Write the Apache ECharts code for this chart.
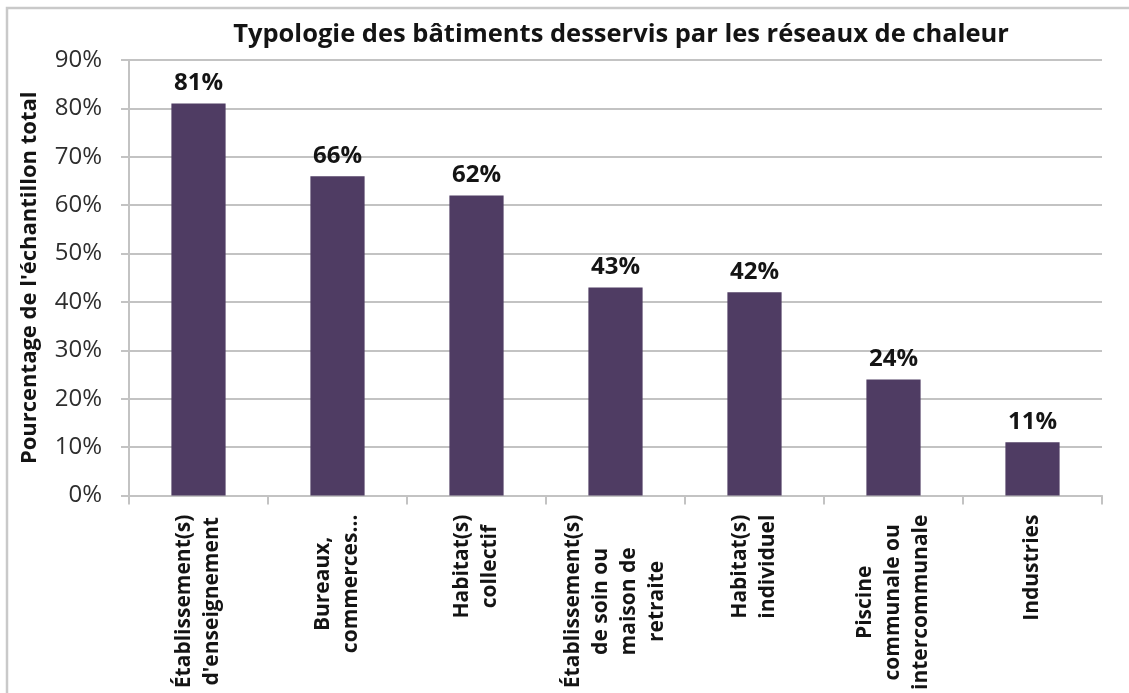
<!DOCTYPE html>
<html>
<head>
<meta charset="utf-8">
<title>Typologie des bâtiments desservis par les réseaux de chaleur</title>
<script src="https://cdn.jsdelivr.net/npm/echarts@6/dist/echarts.min.js"></script>
<style>
  html, body { margin: 0; padding: 0; background: #ffffff; overflow: hidden; }
  #chart { width: 1129px; height: 693px; }
</style>
</head>
<body>
<div id="chart"></div>
<script>
// Building types served by heat networks, share of the total sample (%)
const categories = [
  "Établissement(s)\nd'enseignement",
  "Bureaux,\ncommerces…",
  "Habitat(s)\ncollectif",
  "Établissement(s)\nde soin ou\nmaison de\nretraite",
  "Habitat(s)\nindividuel",
  "Piscine\ncommunale ou\nintercommunale",
  "Industries"
];
const shares = [81, 66, 62, 43, 42, 24, 11];
const yTicks = [0, 10, 20, 30, 40, 50, 60, 70, 80, 90];

const titleText = 'Typologie des bâtiments desservis par les réseaux de chaleur';
const yAxisTitle = "Pourcentage de l'échantillon total";

const FONT = '"Open Sans", Lato, sans-serif';
const BAR_COLOR = '#4f3c63';
const GRID_COLOR = '#c3c3c3';
const TEXT_COLOR = '#141414';

const chart = echarts.init(document.getElementById('chart'), null, { renderer: 'canvas' });

chart.setOption({
  animation: false,
  backgroundColor: '#ffffff',
  textStyle: { fontFamily: FONT },
  graphic: [{
    // outer chart frame (left and top edges fall inside the page)
    type: 'polyline',
    silent: true,
    shape: { points: [[7, 760], [7, 8], [1200, 8]] },
    style: { fill: 'none', stroke: '#c9c9c9', lineWidth: 2.5 }
  }],
  title: {
    text: titleText,
    left: 616,
    top: 17,
    textAlign: 'center',
    textStyle: {
      fontFamily: FONT,
      fontWeight: 'bold',
      fontSize: 25.5,
      color: TEXT_COLOR
    }
  },
  grid: {
    left: 129,
    right: 27,
    top: 60,
    bottom: 194,
    containLabel: false
  },
  xAxis: {
    type: 'category',
    data: categories,
    boundaryGap: true,
    axisLine: { show: true, lineStyle: { color: GRID_COLOR, width: 2 } },
    axisTick: { show: true, length: 9, interval: 0, lineStyle: { color: GRID_COLOR, width: 2 } },
    axisLabel: {
      interval: 0,
      rotate: 90,
      margin: 19,
      formatter: function (v) {
        return v.split('\n').map(function (line) { return '{c|' + line + '}'; }).join('\n');
      },
      rich: {
        c: {
          align: 'center',
          fontFamily: FONT,
          fontWeight: 'bold',
          fontSize: 21,
          lineHeight: 28,
          color: TEXT_COLOR
        }
      }
    }
  },
  yAxis: {
    type: 'value',
    min: yTicks[0],
    max: yTicks[yTicks.length - 1],
    interval: yTicks[1] - yTicks[0],
    name: yAxisTitle,
    nameLocation: 'middle',
    nameGap: 88,
    nameTextStyle: {
      fontFamily: FONT,
      fontWeight: 'bold',
      fontSize: 22,
      color: TEXT_COLOR
    },
    axisLine: { show: true, lineStyle: { color: GRID_COLOR, width: 2 } },
    axisTick: { show: true, length: 8, lineStyle: { color: GRID_COLOR, width: 2 } },
    axisLabel: {
      margin: 27,
      formatter: '{value}%',
      fontFamily: FONT,
      fontSize: 24,
      color: '#2e2e2e'
    },
    splitLine: { show: true, lineStyle: { color: GRID_COLOR, width: 2 } }
  },
  series: [{
    type: 'bar',
    data: shares,
    barWidth: '39%',
    itemStyle: { color: BAR_COLOR },
    label: {
      show: true,
      position: 'top',
      distance: 8,
      formatter: '{c}%',
      fontFamily: FONT,
      fontWeight: 'bold',
      fontSize: 24,
      color: TEXT_COLOR
    }
  }]
});
</script>
</body>
</html>
